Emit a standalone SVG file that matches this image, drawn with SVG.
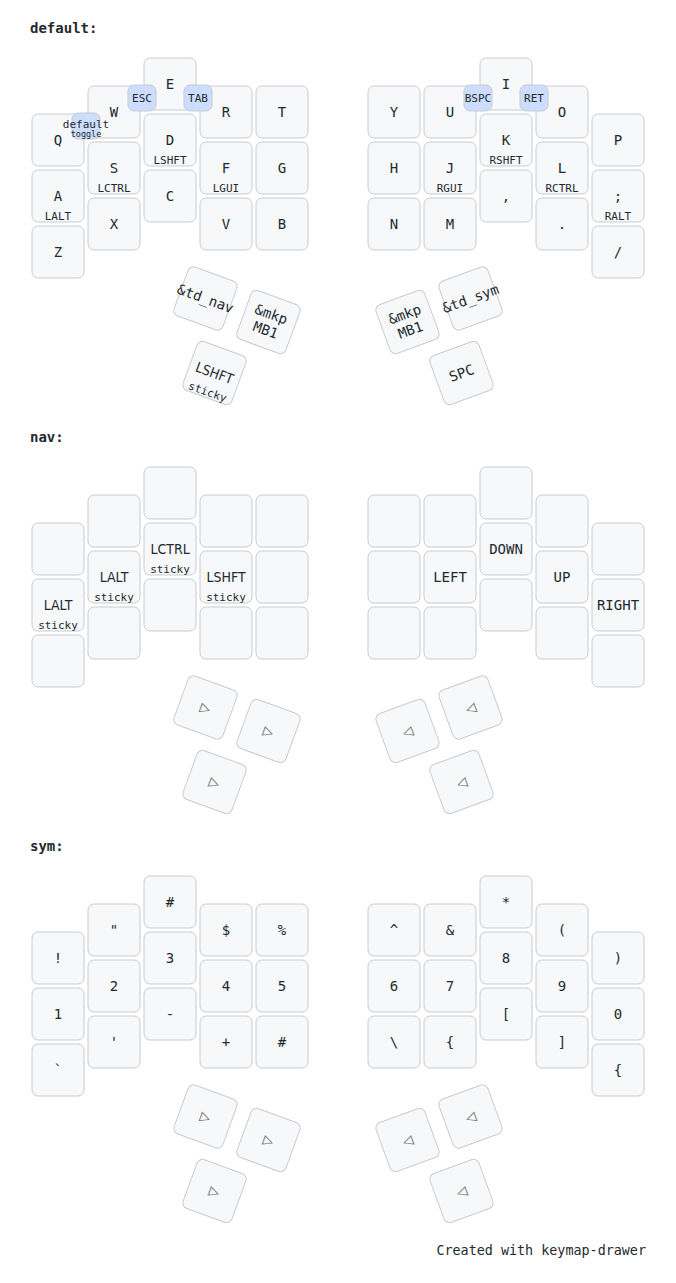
<svg xmlns="http://www.w3.org/2000/svg" width="676" height="1283" viewBox="0 0 676 1283">
<style>
svg { font-family: "DejaVu Sans Mono", "Liberation Mono", monospace; font-size: 14px; fill: #24292e; }
rect.key { fill: #f6f8fa; stroke: #c9cccf; stroke-width: 1; }
rect.combo { fill: #ccddff; stroke: #c9cccf; stroke-width: 1; }
text { text-anchor: middle; dominant-baseline: central; }
text.label { font-weight: bold; text-anchor: start; dominant-baseline: alphabetic; stroke: white; stroke-width: 2; paint-order: stroke; }
text.hold { font-size: 11px; dominant-baseline: alphabetic; }
text.combo { font-size: 11px; }
text.chold { font-size: 8.5px; dominant-baseline: alphabetic; }
text.cond { font-family: "DejaVu Sans Condensed", "DejaVu Sans", sans-serif; font-stretch: condensed; }
text.trans { fill: #7b7e81; font-size: 17px; }
text.footer { text-anchor: end; dominant-baseline: alphabetic; font-size: 13.4px; }
</style>
<defs>
<rect id="k" class="key" x="-26" y="-26" width="52" height="52" rx="6"/>
<rect id="c" class="combo" x="-14" y="-13" width="28" height="26" rx="6"/>
</defs>

<!-- default layer -->
<text class="label" x="30" y="33">default:</text>
<g id="default-keys">
<g id="d-q" transform="translate(58,140)"><use href="#k"/><text>Q</text></g>
<g id="d-w" transform="translate(114,112)"><use href="#k"/><text>W</text></g>
<g id="d-e" transform="translate(170,84)"><use href="#k"/><text>E</text></g>
<g id="d-r" transform="translate(226,112)"><use href="#k"/><text>R</text></g>
<g id="d-t" transform="translate(282,112)"><use href="#k"/><text>T</text></g>
<g id="d-y" transform="translate(394,112)"><use href="#k"/><text>Y</text></g>
<g id="d-u" transform="translate(450,112)"><use href="#k"/><text>U</text></g>
<g id="d-i" transform="translate(506,84)"><use href="#k"/><text>I</text></g>
<g id="d-o" transform="translate(562,112)"><use href="#k"/><text>O</text></g>
<g id="d-p" transform="translate(618,140)"><use href="#k"/><text>P</text></g>
<g id="d-a" transform="translate(58,196)"><use href="#k"/><text>A</text><text class="hold" y="24">LALT</text></g>
<g id="d-s" transform="translate(114,168)"><use href="#k"/><text>S</text><text class="hold" y="24">LCTRL</text></g>
<g id="d-d" transform="translate(170,140)"><use href="#k"/><text>D</text><text class="hold" y="24">LSHFT</text></g>
<g id="d-f" transform="translate(226,168)"><use href="#k"/><text>F</text><text class="hold" y="24">LGUI</text></g>
<g id="d-g" transform="translate(282,168)"><use href="#k"/><text>G</text></g>
<g id="d-h" transform="translate(394,168)"><use href="#k"/><text>H</text></g>
<g id="d-j" transform="translate(450,168)"><use href="#k"/><text>J</text><text class="hold" y="24">RGUI</text></g>
<g id="d-k" transform="translate(506,140)"><use href="#k"/><text>K</text><text class="hold" y="24">RSHFT</text></g>
<g id="d-l" transform="translate(562,168)"><use href="#k"/><text>L</text><text class="hold" y="24">RCTRL</text></g>
<g id="d-semi" transform="translate(618,196)"><use href="#k"/><text>;</text><text class="hold" y="24">RALT</text></g>
<g id="d-z" transform="translate(58,252)"><use href="#k"/><text>Z</text></g>
<g id="d-x" transform="translate(114,224)"><use href="#k"/><text>X</text></g>
<g id="d-c" transform="translate(170,196)"><use href="#k"/><text>C</text></g>
<g id="d-v" transform="translate(226,224)"><use href="#k"/><text>V</text></g>
<g id="d-b" transform="translate(282,224)"><use href="#k"/><text>B</text></g>
<g id="d-n" transform="translate(394,224)"><use href="#k"/><text>N</text></g>
<g id="d-m" transform="translate(450,224)"><use href="#k"/><text>M</text></g>
<g id="d-comma" transform="translate(506,196)"><use href="#k"/><text>,</text></g>
<g id="d-dot" transform="translate(562,224)"><use href="#k"/><text>.</text></g>
<g id="d-slash" transform="translate(618,252)"><use href="#k"/><text>/</text></g>
<g id="d-lt1" transform="translate(205.5,298.5) rotate(20)"><use href="#k"/><text>&amp;td_nav</text></g>
<g id="d-lt2" transform="translate(268.5,322) rotate(20)"><use href="#k"/><text><tspan x="0" dy="-0.6em">&amp;mkp</tspan><tspan x="0" dy="1.2em">MB1</tspan></text></g>
<g id="d-lt3" transform="translate(214.5,373) rotate(20)"><use href="#k"/><text class="cond">LSHFT</text><text class="hold" y="24">sticky</text></g>
<g id="d-rt1" transform="translate(407.5,322) rotate(-20)"><use href="#k"/><text><tspan x="0" dy="-0.6em">&amp;mkp</tspan><tspan x="0" dy="1.2em">MB1</tspan></text></g>
<g id="d-rt2" transform="translate(470.5,298.5) rotate(-20)"><use href="#k"/><text>&amp;td_sym</text></g>
<g id="d-rt3" transform="translate(461.5,373) rotate(-20)"><use href="#k"/><text>SPC</text></g>
</g>
<g id="default-combos">
<g id="c-esc" transform="translate(142,98)"><use href="#c"/><text class="combo">ESC</text></g>
<g id="c-tab" transform="translate(198,98)"><use href="#c"/><text class="combo">TAB</text></g>
<g id="c-toggle" transform="translate(86,126)"><use href="#c"/><text class="combo" y="-2">default</text><text class="chold" y="11">toggle</text></g>
<g id="c-bspc" transform="translate(478,98)"><use href="#c"/><text class="combo">BSPC</text></g>
<g id="c-ret" transform="translate(534,98)"><use href="#c"/><text class="combo">RET</text></g>
</g>

<!-- nav layer -->
<text class="label" x="30" y="442">nav:</text>
<g id="nav-keys">
<g id="n-q" transform="translate(58,549)"><use href="#k"/></g>
<g id="n-w" transform="translate(114,521)"><use href="#k"/></g>
<g id="n-e" transform="translate(170,493)"><use href="#k"/></g>
<g id="n-r" transform="translate(226,521)"><use href="#k"/></g>
<g id="n-t" transform="translate(282,521)"><use href="#k"/></g>
<g id="n-y" transform="translate(394,521)"><use href="#k"/></g>
<g id="n-u" transform="translate(450,521)"><use href="#k"/></g>
<g id="n-i" transform="translate(506,493)"><use href="#k"/></g>
<g id="n-o" transform="translate(562,521)"><use href="#k"/></g>
<g id="n-p" transform="translate(618,549)"><use href="#k"/></g>
<g id="n-a" transform="translate(58,605)"><use href="#k"/><text class="cond">LALT</text><text class="hold" y="24">sticky</text></g>
<g id="n-s" transform="translate(114,577)"><use href="#k"/><text class="cond">LALT</text><text class="hold" y="24">sticky</text></g>
<g id="n-d" transform="translate(170,549)"><use href="#k"/><text class="cond">LCTRL</text><text class="hold" y="24">sticky</text></g>
<g id="n-f" transform="translate(226,577)"><use href="#k"/><text class="cond">LSHFT</text><text class="hold" y="24">sticky</text></g>
<g id="n-g" transform="translate(282,577)"><use href="#k"/></g>
<g id="n-h" transform="translate(394,577)"><use href="#k"/></g>
<g id="n-j" transform="translate(450,577)"><use href="#k"/><text>LEFT</text></g>
<g id="n-k" transform="translate(506,549)"><use href="#k"/><text>DOWN</text></g>
<g id="n-l" transform="translate(562,577)"><use href="#k"/><text>UP</text></g>
<g id="n-semi" transform="translate(618,605)"><use href="#k"/><text>RIGHT</text></g>
<g id="n-z" transform="translate(58,661)"><use href="#k"/></g>
<g id="n-x" transform="translate(114,633)"><use href="#k"/></g>
<g id="n-c" transform="translate(170,605)"><use href="#k"/></g>
<g id="n-v" transform="translate(226,633)"><use href="#k"/></g>
<g id="n-b" transform="translate(282,633)"><use href="#k"/></g>
<g id="n-n" transform="translate(394,633)"><use href="#k"/></g>
<g id="n-m" transform="translate(450,633)"><use href="#k"/></g>
<g id="n-comma" transform="translate(506,605)"><use href="#k"/></g>
<g id="n-dot" transform="translate(562,633)"><use href="#k"/></g>
<g id="n-slash" transform="translate(618,661)"><use href="#k"/></g>
<g id="n-lt1" transform="translate(205.5,707.5) rotate(20)"><use href="#k"/><text class="trans">▷</text></g>
<g id="n-lt2" transform="translate(268.5,731) rotate(20)"><use href="#k"/><text class="trans">▷</text></g>
<g id="n-lt3" transform="translate(214.5,782) rotate(20)"><use href="#k"/><text class="trans">▷</text></g>
<g id="n-rt1" transform="translate(407.5,731) rotate(-20)"><use href="#k"/><text class="trans">◁</text></g>
<g id="n-rt2" transform="translate(470.5,707.5) rotate(-20)"><use href="#k"/><text class="trans">◁</text></g>
<g id="n-rt3" transform="translate(461.5,782) rotate(-20)"><use href="#k"/><text class="trans">◁</text></g>
</g>

<!-- sym layer -->
<text class="label" x="30" y="851">sym:</text>
<g id="sym-keys">
<g id="s-q" transform="translate(58,958)"><use href="#k"/><text>!</text></g>
<g id="s-w" transform="translate(114,930)"><use href="#k"/><text>"</text></g>
<g id="s-e" transform="translate(170,902)"><use href="#k"/><text>#</text></g>
<g id="s-r" transform="translate(226,930)"><use href="#k"/><text>$</text></g>
<g id="s-t" transform="translate(282,930)"><use href="#k"/><text>%</text></g>
<g id="s-y" transform="translate(394,930)"><use href="#k"/><text>^</text></g>
<g id="s-u" transform="translate(450,930)"><use href="#k"/><text>&amp;</text></g>
<g id="s-i" transform="translate(506,902)"><use href="#k"/><text>*</text></g>
<g id="s-o" transform="translate(562,930)"><use href="#k"/><text>(</text></g>
<g id="s-p" transform="translate(618,958)"><use href="#k"/><text>)</text></g>
<g id="s-a" transform="translate(58,1014)"><use href="#k"/><text>1</text></g>
<g id="s-s" transform="translate(114,986)"><use href="#k"/><text>2</text></g>
<g id="s-d" transform="translate(170,958)"><use href="#k"/><text>3</text></g>
<g id="s-f" transform="translate(226,986)"><use href="#k"/><text>4</text></g>
<g id="s-g" transform="translate(282,986)"><use href="#k"/><text>5</text></g>
<g id="s-h" transform="translate(394,986)"><use href="#k"/><text>6</text></g>
<g id="s-j" transform="translate(450,986)"><use href="#k"/><text>7</text></g>
<g id="s-k" transform="translate(506,958)"><use href="#k"/><text>8</text></g>
<g id="s-l" transform="translate(562,986)"><use href="#k"/><text>9</text></g>
<g id="s-semi" transform="translate(618,1014)"><use href="#k"/><text>0</text></g>
<g id="s-z" transform="translate(58,1070)"><use href="#k"/><text>`</text></g>
<g id="s-x" transform="translate(114,1042)"><use href="#k"/><text>'</text></g>
<g id="s-c" transform="translate(170,1014)"><use href="#k"/><text>-</text></g>
<g id="s-v" transform="translate(226,1042)"><use href="#k"/><text>+</text></g>
<g id="s-b" transform="translate(282,1042)"><use href="#k"/><text>#</text></g>
<g id="s-n" transform="translate(394,1042)"><use href="#k"/><text>\</text></g>
<g id="s-m" transform="translate(450,1042)"><use href="#k"/><text>{</text></g>
<g id="s-comma" transform="translate(506,1014)"><use href="#k"/><text>[</text></g>
<g id="s-dot" transform="translate(562,1042)"><use href="#k"/><text>]</text></g>
<g id="s-slash" transform="translate(618,1070)"><use href="#k"/><text>{</text></g>
<g id="s-lt1" transform="translate(205.5,1116.5) rotate(20)"><use href="#k"/><text class="trans">▷</text></g>
<g id="s-lt2" transform="translate(268.5,1140) rotate(20)"><use href="#k"/><text class="trans">▷</text></g>
<g id="s-lt3" transform="translate(214.5,1191) rotate(20)"><use href="#k"/><text class="trans">▷</text></g>
<g id="s-rt1" transform="translate(407.5,1140) rotate(-20)"><use href="#k"/><text class="trans">◁</text></g>
<g id="s-rt2" transform="translate(470.5,1116.5) rotate(-20)"><use href="#k"/><text class="trans">◁</text></g>
<g id="s-rt3" transform="translate(461.5,1191) rotate(-20)"><use href="#k"/><text class="trans">◁</text></g>
</g>

<text class="footer" x="646" y="1255">Created with keymap-drawer</text>
</svg>
